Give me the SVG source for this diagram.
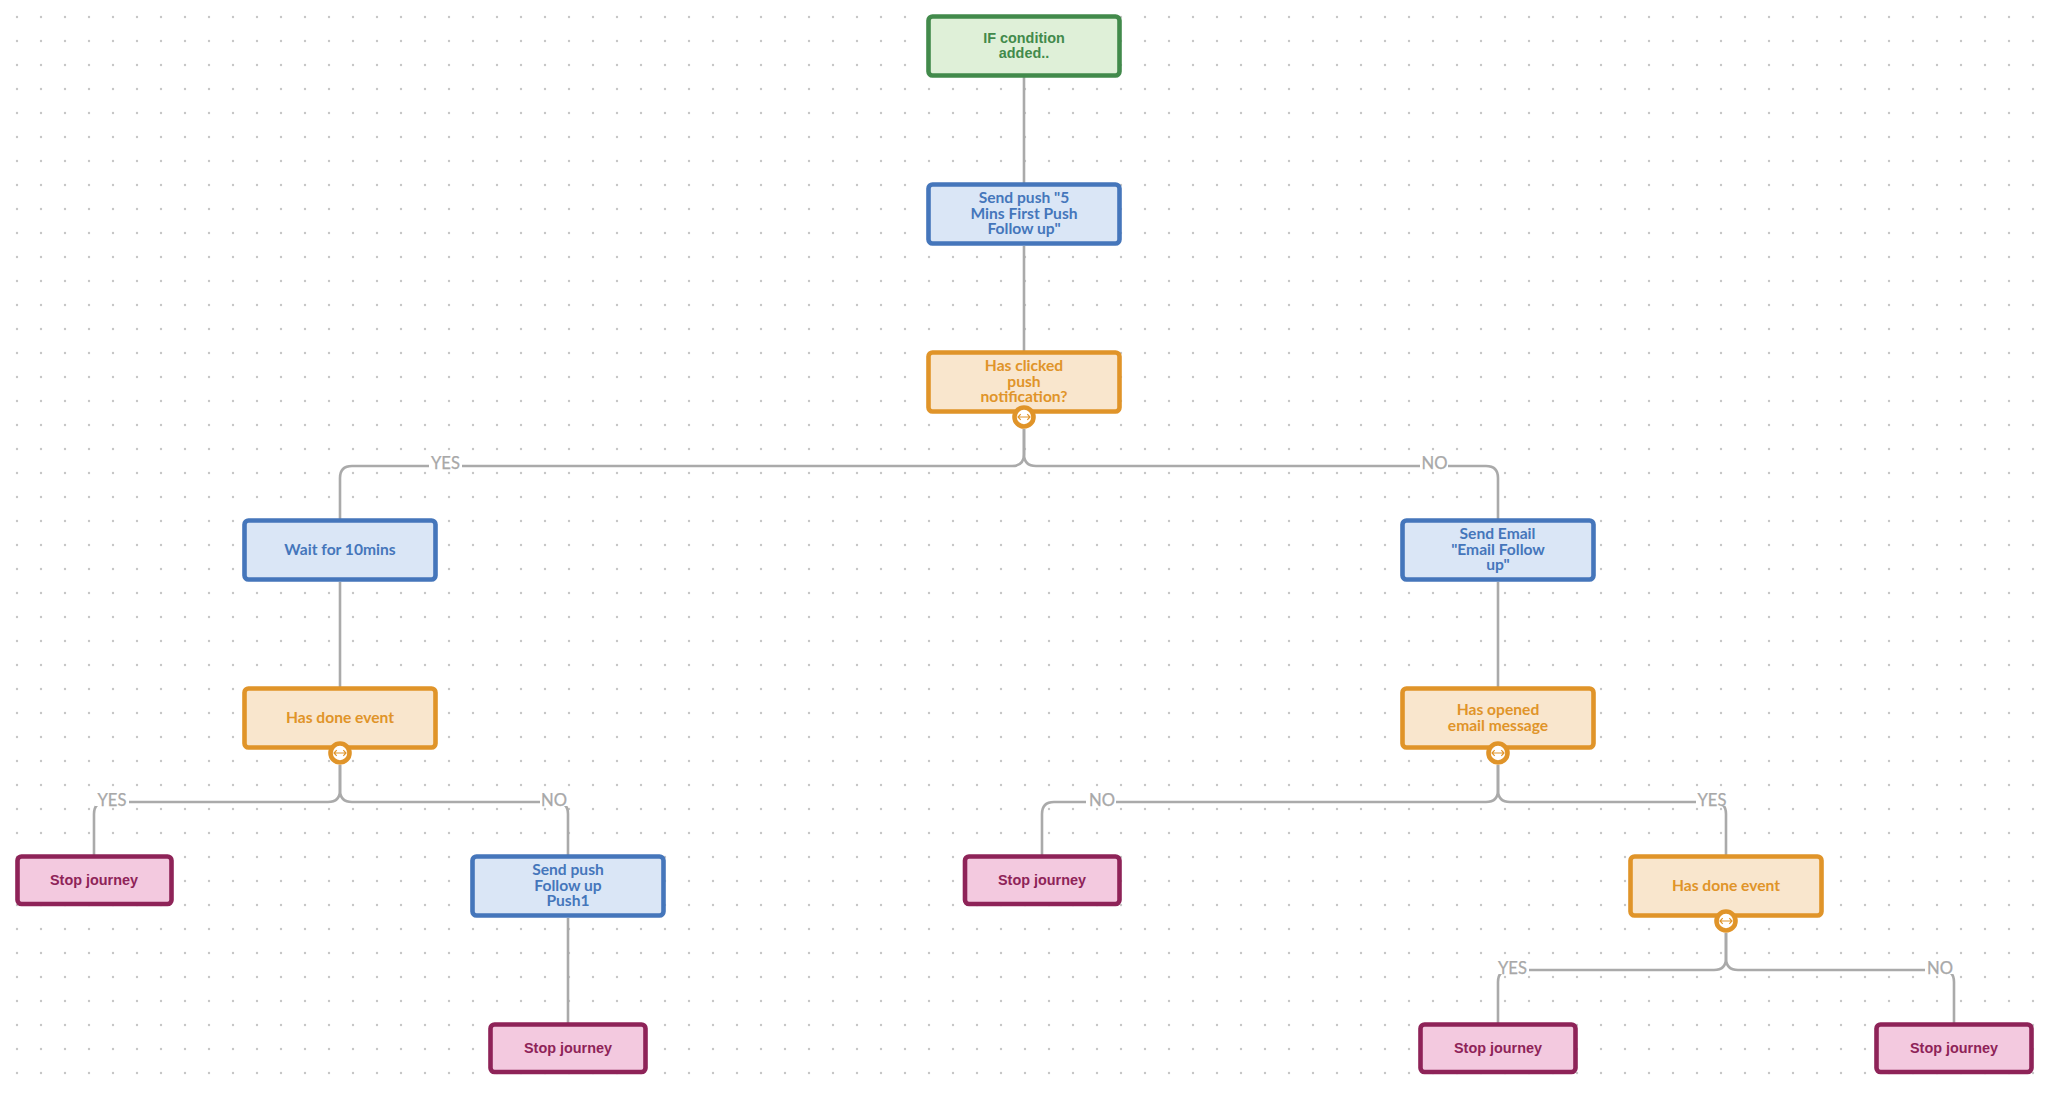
<svg xmlns="http://www.w3.org/2000/svg" width="2052" height="1094" viewBox="0 0 2052 1094">
<defs>
<pattern id="dots" width="24" height="24" patternUnits="userSpaceOnUse" x="5" y="5"><circle cx="12" cy="12" r="1.2" fill="#c6c6c6"/></pattern>
<g id="toggle"><circle r="9.500" fill="#fff" stroke="#e09429" stroke-width="4.600"/><path d="M-6 0H6M-3.300 -2.800L-6 0L-3.300 2.800M3.300 -2.800L6 0L3.300 2.800" fill="none" stroke="#e09429" stroke-width="1.200"/></g>
</defs>
<style>
rect.n{stroke-width:4.6}
.g rect{fill:#dff0d8;stroke:#428a4b}
.g text{fill:#428a4b;font:bold 14.4px "Liberation Sans",Arial,sans-serif}
.b rect{fill:#dae6f6;stroke:#4576bb}
.b text{fill:#4576bb;font:bold 15.6px "Lato",sans-serif}
.o rect{fill:#f9e6cd;stroke:#e09429}
.o text{fill:#e09429;font:bold 15.6px "Lato",sans-serif}
.s rect{fill:#f3c9df;stroke:#8e2358}
.s text{fill:#8e2358;font:bold 14.400px "Liberation Sans",Arial,sans-serif}
text{text-anchor:middle}
#connectors path{fill:none;stroke:#aaaaaa;stroke-width:2.6}
#connectors rect{fill:#fff}
#connectors text{fill:#a8a8a8;font:16.6px "Lato",sans-serif;stroke:#a8a8a8;stroke-width:.25}
</style>
<rect x="5" y="5" width="2040" height="1080" fill="url(#dots)"/>
<g id="connectors">
<path d="M1024 77V183M1024 246V351"/>
<path d="M1024 429V454Q1024 466 1012 466H352Q340 466 340 478V519"/>
<path d="M1024 429V454Q1024 466 1036 466H1486Q1498 466 1498 478V519"/>
<path d="M1498 582V687"/>
<path d="M340 582V687"/>
<path d="M340 765V790Q340 802 328 802H106Q94 802 94 814V855"/>
<path d="M340 765V790Q340 802 352 802H556Q568 802 568 814V855"/>
<path d="M568 918V1023"/>
<path d="M1498 765V790Q1498 802 1486 802H1054Q1042 802 1042 814V855"/>
<path d="M1498 765V790Q1498 802 1510 802H1714Q1726 802 1726 814V855"/>
<path d="M1726 933V958Q1726 970 1714 970H1510Q1498 970 1498 982V1023"/>
<path d="M1726 933V958Q1726 970 1738 970H1942Q1954 970 1954 982V1023"/>
<g id="labels">
<rect x="429" y="454" width="33" height="17"/><text x="445.500" y="469">YES</text>
<rect x="1420" y="454" width="28" height="17"/><text x="1434.500" y="469">NO</text>
<rect x="95" y="790" width="34" height="16"/><text x="112" y="806">YES</text>
<rect x="540" y="790" width="30" height="16"/><text x="554" y="806">NO</text>
<rect x="1086" y="790" width="30" height="16"/><text x="1102" y="806">NO</text>
<rect x="1696" y="790" width="30" height="16"/><text x="1712" y="806">YES</text>
<rect x="1496" y="958" width="33" height="16"/><text x="1512.500" y="974">YES</text>
<rect x="1925" y="958" width="30" height="16"/><text x="1940" y="974">NO</text>
</g>
</g>
<g id="n1" class="g"><rect class="n" x="928.500" y="16.500" width="191" height="59" rx="4"/><text x="1024" y="43">IF condition</text><text x="1024" y="57.500">added..</text></g>
<g id="n2" class="b"><rect class="n" x="928.500" y="184.500" width="191" height="59" rx="4"/><text x="1024" y="203">Send push "5</text><text x="1024" y="219">Mins First Push</text><text x="1024" y="234">Follow up"</text></g>
<g id="n3" class="o"><rect class="n" x="928.500" y="352.500" width="191" height="59" rx="4"/><text x="1024" y="371">Has clicked</text><text x="1024" y="387">push</text><text x="1024" y="402">notification?</text><use href="#toggle" x="1024" y="417"/></g>
<g id="n4" class="b"><rect class="n" x="244.500" y="520.500" width="191" height="59" rx="4"/><text x="340" y="555">Wait for 10mins</text></g>
<g id="n5" class="b"><rect class="n" x="1402.500" y="520.500" width="191" height="59" rx="4"/><text x="1497.500" y="539">Send Email</text><text x="1498" y="555">"Email Follow</text><text x="1498" y="570">up"</text></g>
<g id="n6" class="o"><rect class="n" x="244.500" y="688.500" width="191" height="59" rx="4"/><text x="340" y="723">Has done event</text><use href="#toggle" x="340" y="753"/></g>
<g id="n7" class="o"><rect class="n" x="1402.500" y="688.500" width="191" height="59" rx="4"/><text x="1498" y="715">Has opened</text><text x="1498" y="731">email message</text><use href="#toggle" x="1498" y="753"/></g>
<g id="n8" class="s"><rect class="n" x="17.500" y="856.500" width="154" height="47.500" rx="4"/><text x="94" y="885">Stop journey</text></g>
<g id="n9" class="b"><rect class="n" x="472.500" y="856.500" width="191" height="59" rx="4"/><text x="568" y="875">Send push</text><text x="568" y="891">Follow up</text><text x="568" y="906">Push1</text></g>
<g id="n10" class="s"><rect class="n" x="965" y="856.500" width="154.500" height="47.500" rx="4"/><text x="1042" y="885">Stop journey</text></g>
<g id="n11" class="o"><rect class="n" x="1630.500" y="856.500" width="191" height="59" rx="4"/><text x="1726" y="891">Has done event</text><use href="#toggle" x="1726" y="921"/></g>
<g id="n12" class="s"><rect class="n" x="490.500" y="1024.500" width="155" height="47.500" rx="4"/><text x="568" y="1053">Stop journey</text></g>
<g id="n13" class="s"><rect class="n" x="1420.500" y="1024.500" width="155" height="47.500" rx="4"/><text x="1498" y="1053">Stop journey</text></g>
<g id="n14" class="s"><rect class="n" x="1876.500" y="1024.500" width="155" height="47.500" rx="4"/><text x="1954" y="1053">Stop journey</text></g>
</svg>
